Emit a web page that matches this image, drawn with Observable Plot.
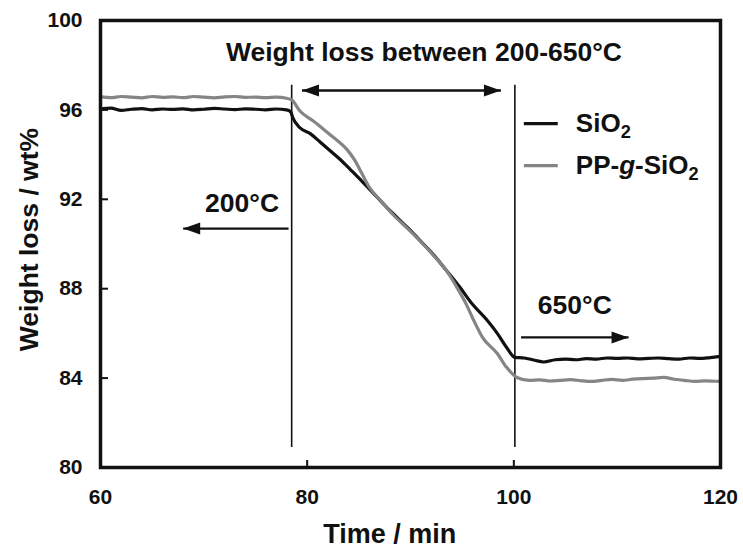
<!DOCTYPE html>
<html>
<head>
<meta charset="utf-8">
<script src="https://cdn.jsdelivr.net/npm/d3@7"></script>
<script src="https://cdn.jsdelivr.net/npm/@observablehq/plot@0.6"></script>
<style>
  html, body { margin: 0; padding: 0; background: #fff; }
  #chart { width: 743px; height: 554px; }
</style>
</head>
<body>
<div id="chart"></div>
<script>
// ---- data ----
const xTicks = [60, 80, 100, 120];
const yTicks = [80, 84, 88, 92, 96, 100];

const sio2Time = [60,61,62,63,64,65,66,67,68,69,70,71,72,73,74,75,76,77,78,78.4,
  78.6,79.3,80.3,81.3,82.2,83.2,84.2,85.4,86.8,88.0,89.7,91.0,92.3,93.5,94.8,96.0,97.4,98.4,99.3,100.1,
  101,102,102.9,104,105,106,107,108,109,110,111,112,113,114,115,116,117,118,119,120];
const sio2Value = [96.05,96.08,95.98,96.03,96.06,96.0,96.04,96.02,96.05,96.0,96.03,96.07,96.04,96.01,96.05,96.03,96.0,96.04,96.0,95.92,
  95.66,95.2,94.94,94.54,94.18,93.78,93.32,92.76,92.08,91.5,90.74,90.12,89.48,88.8,88.05,87.3,86.6,86.0,85.37,84.93,
  84.9,84.8,84.72,84.82,84.85,84.82,84.87,84.85,84.9,84.88,84.9,84.86,84.88,84.9,84.87,84.85,84.9,84.88,84.92,84.97];

const ppTime = [60,61,62,63,64,65,66,67,68,69,70,71,72,73,74,75,76,77,78,78.5,
  79.3,80.6,82.2,83.0,83.9,84.6,85.3,86.0,87.1,88.3,89.7,91.0,92.3,93.5,94.5,95.4,96.0,97.0,98.4,99.3,100.3,101.5,
  102.5,103.5,104.5,105.5,106.5,107.5,108.5,109.5,110.5,111.5,112.5,113.5,114.5,115.5,116.5,117.5,118.5,119.5,120];
const ppValue = [96.58,96.55,96.6,96.57,96.54,96.6,96.56,96.58,96.55,96.6,96.57,96.54,96.58,96.6,96.56,96.57,96.55,96.57,96.52,96.45,
  95.95,95.5,94.9,94.6,94.2,93.75,93.15,92.55,91.95,91.32,90.7,90.1,89.45,88.8,88.05,87.3,86.7,85.8,85.1,84.48,84.03,83.9,
  83.92,83.87,83.9,83.93,83.88,83.85,83.9,83.94,83.9,83.95,83.98,84.0,84.03,83.95,83.9,83.85,83.88,83.86,83.85];

const boundaryTimes = [78.5, 100.1];
const boundaryRange = [80.9, 97.1];

const arrowShafts = [
  {x1: 88.6, y1: 96.87, x2: 79.5, y2: 96.87},
  {x1: 88.6, y1: 96.87, x2: 98.75, y2: 96.87},
  {x1: 78.2, y1: 90.69, x2: 68.0, y2: 90.69},
  {x1: 100.7, y1: 85.82, x2: 111.1, y2: 85.82}
];
const arrowHeads = [
  {x: 79.5, y: 96.87, dir: -90},
  {x: 98.75, y: 96.87, dir: 90},
  {x: 68.0, y: 90.69, dir: -90},
  {x: 111.1, y: 85.82, dir: 90}
];
const notes = [
  {x: 91.3, y: 98.21, text: "Weight loss between 200-650°C"},
  {x: 73.7, y: 91.41, text: "200°C"},
  {x: 105.9, y: 86.85, text: "650°C"}
];
const seriesNames = ["SiO2", "PP-g-SiO2"];
const seriesColors = ["#111111", "#858585"];
const legendY = [95.39, 93.51];
const legendX = [100.97, 104.25, 106.0];

// ---- build ----
const sio2 = sio2Time.map((t, i) => ({t, w: sio2Value[i]}));
const pp = ppTime.map((t, i) => ({t, w: ppValue[i]}));
const legend = seriesNames.map((name, i) => ({name, color: seriesColors[i], y: legendY[i]}));

const headSymbol = {
  draw(context) {
    // tip at origin pointing up
    context.moveTo(0, 0);
    context.lineTo(-6, 17);
    context.lineTo(6, 17);
    context.closePath();
  }
};

const W = 743, H = 554;
const mL = 100, mR = 23, mT = 20, mB = 87;
const frameW = W - mL - mR, frameH = H - mT - mB;
const font = "'Liberation Sans', Arial, Helvetica, sans-serif";

const chart = Plot.plot({
  width: W,
  height: H,
  marginLeft: mL,
  marginRight: mR,
  marginTop: mT,
  marginBottom: mB,
  style: {fontFamily: font, fontWeight: "bold", fontSize: "21px", color: "#111", background: "#fff"},
  x: {domain: [60, 120], ticks: xTicks},
  y: {domain: [80, 100], ticks: yTicks},
  marks: [
    Plot.axisX({ticks: xTicks, tickSize: 0, tickPadding: 22, label: null, fontSize: 21, fontWeight: "bold"}),
    Plot.axisY({ticks: yTicks, tickSize: 0, tickPadding: 18, label: null, fontSize: 21, fontWeight: "bold"}),
    Plot.ruleX(xTicks, {x: d => d, insetTop: frameH - 7, stroke: "#111", strokeWidth: 2}),
    Plot.ruleY(yTicks, {y: d => d, insetRight: frameW - 8, stroke: "#111", strokeWidth: 2}),
    Plot.ruleX(boundaryTimes, {x: d => d, y1: boundaryRange[0], y2: boundaryRange[1], stroke: "#111", strokeWidth: 1.6}),
    Plot.line(sio2, {x: "t", y: "w", stroke: seriesColors[0], strokeWidth: 3.2, curve: "monotone-x"}),
    Plot.line(pp, {x: "t", y: "w", stroke: seriesColors[1], strokeWidth: 3.2, curve: "monotone-x"}),
    Plot.link(arrowShafts, {x1: "x1", y1: "y1", x2: "x2", y2: "y2", stroke: "#111", strokeWidth: 2.4}),
    Plot.dot(arrowHeads, {x: "x", y: "y", rotate: "dir", symbol: headSymbol, fill: "#111", stroke: "none", r: 6}),
    Plot.text(notes, {x: "x", y: "y", text: "text", textAnchor: "middle", lineAnchor: "bottom", fontSize: 26.5, fontWeight: "bold", fill: "#111"}),
    Plot.link(legend, {x1: legendX[0], x2: legendX[1], y1: "y", y2: "y", stroke: "color", strokeWidth: 3.2}),
    Plot.text(legend, {x: legendX[2], y: "y", text: "name", textAnchor: "start", lineAnchor: "middle", fontSize: 26, fontWeight: "bold", fill: "#111", className: "legend-text"}),
    Plot.text(["Time / min"], {x: 88.0, frameAnchor: "bottom", dy: 75, lineAnchor: "bottom", textAnchor: "middle", fontSize: 27, fontWeight: "bold", fill: "#111"}),
    Plot.text(["Weight loss / wt%"], {y: 90.2, frameAnchor: "left", dx: -63, rotate: -90, lineAnchor: "bottom", textAnchor: "middle", fontSize: 26.5, fontWeight: "bold", fill: "#111"}),
    Plot.frame({stroke: "#111", strokeWidth: 3.5})
  ]
});

document.getElementById("chart").appendChild(chart);

// subscripts / italics in legend
d3.select(chart).selectAll("g.legend-text text").each(function() {
  const t = this.textContent;
  if (t === "SiO2") {
    this.innerHTML = 'SiO<tspan font-size="0.7em" dy="0.35em">2</tspan>';
  } else if (t === "PP-g-SiO2") {
    this.innerHTML = 'PP-<tspan font-style="italic">g</tspan>-SiO<tspan font-size="0.7em" dy="0.35em">2</tspan>';
  }
});
</script>
</body>
</html>
